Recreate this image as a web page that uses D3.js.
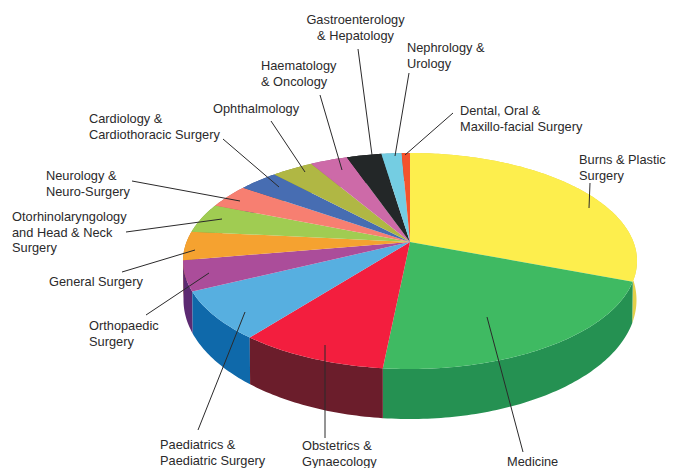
<!DOCTYPE html>
<html lang="en">
<head>
<meta charset="UTF-8">
<title>Specialties pie</title>
<script src="https://d3js.org/d3.v7.min.js"></script>
<style>
    html, body { margin: 0; padding: 0; background: #fff; }
    svg { display: block; }
    .label { font-family: "Liberation Sans", Arial, sans-serif; font-size: 12.8px; fill: #2b2a2b; }
    .leader { stroke: #2b2a2b; stroke-width: 1; fill: none; }
</style>
</head>
<body>
<svg id="chart" width="676" height="468"></svg>
<script>
// Values, share of the pie in percent, clockwise from 12 o'clock
const specialties = ["Burns & Plastic Surgery", "Medicine", "Obstetrics & Gynaecology", "Paediatrics & Paediatric Surgery",
    "Orthopaedic Surgery", "General Surgery", "Otorhinolaryngology and Head & Neck Surgery", "Neurology & Neuro-Surgery",
    "Cardiology & Cardiothoracic Surgery", "Ophthalmology", "Haematology & Oncology", "Gastroenterology & Hepatology",
    "Nephrology & Urology", "Dental, Oral & Maxillo-facial Surgery"];
const shares = [30.8, 20.8, 9.0, 7.2, 4.5, 4.3, 4.45, 3.6, 3.35, 3.5, 3.15, 2.95, 1.7, 0.7];
const topColors = ["#fdee4d", "#3fba62", "#f31e3e", "#57afe0", "#ab4d9a", "#f5a230", "#a0cc52",
    "#f77f71", "#476db2", "#b0b744", "#cd6aa8", "#232728", "#74cde2", "#f4532c"];
const wallColors = ["#e3d04a", "#259152", "#6b1d2b", "#0f69aa", "#5c2a72", "#c07f25", "#7f9f40",
    "#c0645a", "#35528a", "#8a9035", "#a05384", "#111", "#5aa0b0", "#c0401f"];

// Label text lines with their start point, and the leader each one gets
const labelLines = [
    { lines: ["Burns & Plastic", "Surgery"], x: 579, y: 164, leader: [[590, 183], [589, 208]] },
    { lines: ["Medicine"], x: 507, y: 466, leader: [[487, 317], [523, 452]] },
    { lines: ["Obstetrics &", "Gynaecology"], x: 302, y: 450, leader: [[325, 345], [325, 438]] },
    { lines: ["Paediatrics &", "Paediatric Surgery"], x: 160, y: 449, leader: [[245, 312], [198, 430]] },
    { lines: ["Orthopaedic", "Surgery"], x: 89, y: 330, leader: [[209, 273], [146, 315]] },
    { lines: ["General Surgery"], x: 49, y: 286, leader: [[195, 250], [122, 272]] },
    { lines: ["Otorhinolaryngology", "and Head & Neck", "Surgery"], x: 12, y: 221, leader: [[222, 219], [126, 232]] },
    { lines: ["Neurology &", "Neuro-Surgery"], x: 46, y: 180, leader: [[240, 201], [132, 181]] },
    { lines: ["Cardiology &", "Cardiothoracic Surgery"], x: 89, y: 123, leader: [[279, 187], [223, 139]] },
    { lines: ["Ophthalmology"], x: 213, y: 113, leader: [[305, 172], [271, 121]] },
    { lines: ["Haematology", "& Oncology"], x: 261, y: 70, leader: [[342, 170], [320, 95]] },
    { lines: ["Gastroenterology", "& Hepatology"], x: 355.5, y: 24, anchor: "middle", leader: [[372, 155], [358, 49]] },
    { lines: ["Nephrology &", "Urology"], x: 407, y: 52, leader: [[395, 156], [409, 73]] },
    { lines: ["Dental, Oral &", "Maxillo-facial Surgery"], x: 460, y: 115, leader: [[405, 155], [453, 113]] }
];

const svg = d3.select("#chart");

// Perspective view of a disc: the apex sits above the centre of the drawn ellipse
const perspective = 0.176;
function disc(cx, cy, rx, ry) {
    const a = rx * Math.sqrt(1 - perspective * perspective);
    const b = ry * (1 - perspective * perspective);
    const apexY = cy - ry * perspective;
    return {
        apex: [cx, apexY],
        at(angle) {
            const u = Math.sin(angle), v = -Math.cos(angle);
            const w = 1 - perspective * v;
            return [cx + a * u / w, apexY + b * v / w];
        }
    };
}
const topDisc = disc(410, 261, 227, 108);
const bottomDisc = disc(410, 300, 226.5, 119);

const slices = d3.pie().sort(null).value(d => d)(shares);
const line = d3.line();

function arcPoints(d, target) {
    const n = Math.max(2, Math.ceil((d.endAngle - d.startAngle) * 60));
    return d3.range(n + 1).map(i => target.at(d.startAngle + (d.endAngle - d.startAngle) * i / n));
}

// Walls, furthest first so the nearest slices overlap them
const wallOrder = slices.slice().sort((p, q) =>
    Math.abs(Math.PI - (p.startAngle + p.endAngle) / 2) < Math.abs(Math.PI - (q.startAngle + q.endAngle) / 2) ? 1 : -1);
svg.append("g").selectAll("path")
    .data(wallOrder)
    .enter()
    .append("path")
    .attr("fill", d => wallColors[d.index])
    .attr("d", d => line(arcPoints(d, topDisc).concat(arcPoints(d, bottomDisc).reverse())) + "Z");

// Top face
svg.append("g").selectAll("path")
    .data(slices)
    .enter()
    .append("path")
    .attr("fill", d => topColors[d.index])
    .attr("d", d => line([topDisc.apex].concat(arcPoints(d, topDisc))) + "Z");

// Leaders
svg.append("g").selectAll("path")
    .data(labelLines)
    .enter()
    .append("path")
    .attr("class", "leader")
    .attr("d", d => line(d.leader));

// Labels
const labels = svg.append("g").selectAll("text")
    .data(labelLines)
    .enter()
    .append("text")
    .attr("class", "label")
    .attr("text-anchor", d => d.anchor || "start");
labels.selectAll("tspan")
    .data(d => d.lines.map((t, i) => ({ t, i, x: d.x, y: d.y })))
    .enter()
    .append("tspan")
    .attr("x", d => d.x)
    .attr("y", d => d.y + d.i * 15.7)
    .text(d => d.t);
</script>
</body>
</html>
